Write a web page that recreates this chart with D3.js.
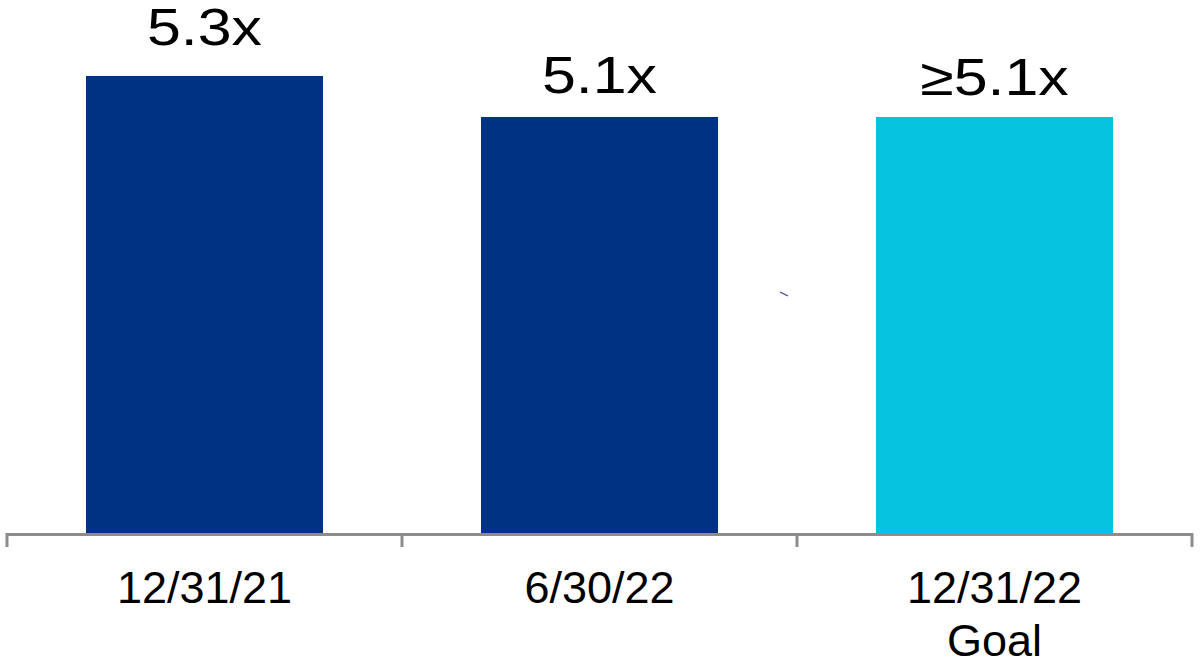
<!DOCTYPE html>
<html>
<head>
<meta charset="utf-8">
<script src="https://cdn.jsdelivr.net/npm/d3@7"></script>
<style>
  html, body { margin: 0; padding: 0; background: #fff; }
  svg { display: block; font-family: "Liberation Sans", Arial, sans-serif; }
</style>
</head>
<body>
<div id="chart"></div>
<script>
// Dati del grafico
const categories = ["12/31/21", "6/30/22", "12/31/22"];
const subLabels = ["", "", "Goal"];
const values = [5.3, 5.1, 5.1];
const valueLabels = ["5.3x", "5.1x", "\u22655.1x"];
const barColors = ["#003283", "#003283", "#05c3de"];
// distanza tra etichetta e cima della barra
const labelGap = [31, 24, 22];

const width = 1200, height = 661;
const baseY = 533;

const svg = d3.select("#chart").append("svg")
    .attr("width", width)
    .attr("height", height);

const x = d3.scaleBand()
    .domain(categories)
    .range([7, 1192])
    .paddingInner(0.4)
    .paddingOuter(0.2);

// l'asse non parte da zero
const y = d3.scaleLinear()
    .domain([3.07, 5.3])
    .range([baseY, 76]);

// barre
svg.selectAll(".bar")
    .data(categories)
    .enter().append("rect")
    .attr("class", "bar")
    .attr("x", d => x(d))
    .attr("y", (d, i) => y(values[i]))
    .attr("width", x.bandwidth())
    .attr("height", (d, i) => baseY - y(values[i]))
    .attr("fill", (d, i) => barColors[i]);

// etichette dei valori (testo un po' allargato come nell'originale)
svg.selectAll(".val")
    .data(categories)
    .enter().append("text")
    .attr("class", "val")
    .attr("transform", (d, i) =>
        `translate(${x(d) + x.bandwidth() / 2},${y(values[i]) - labelGap[i]}) scale(1.17,1)`)
    .attr("text-anchor", "middle")
    .attr("font-size", 52)
    .attr("fill", "#000")
    .text((d, i) => valueLabels[i]);

// asse x con tacche ai confini delle categorie
const step = x.step();
const start = x.range()[0];
const bounds = d3.range(categories.length + 1).map(i => start + i * step);

svg.append("line")
    .attr("x1", start).attr("x2", x.range()[1])
    .attr("y1", baseY + 1.5).attr("y2", baseY + 1.5)
    .attr("stroke", "#8c8c8c")
    .attr("stroke-width", 3);

svg.selectAll(".tick")
    .data(bounds)
    .enter().append("line")
    .attr("class", "tick")
    .attr("x1", d => d).attr("x2", d => d)
    .attr("y1", baseY).attr("y2", baseY + 14)
    .attr("stroke", "#8c8c8c")
    .attr("stroke-width", 3);

// etichette delle categorie
const lab = svg.selectAll(".cat")
    .data(categories)
    .enter().append("text")
    .attr("class", "cat")
    .attr("x", d => x(d) + x.bandwidth() / 2)
    .attr("y", 603)
    .attr("text-anchor", "middle")
    .attr("font-size", 45)
    .attr("fill", "#000");

lab.append("tspan").text(d => d);
lab.filter((d, i) => subLabels[i])
    .append("tspan")
    .attr("x", d => x(d) + x.bandwidth() / 2)
    .attr("dy", 53)
    .text(d => subLabels[categories.indexOf(d)]);

// piccolo segno blu presente nell'originale
svg.append("path")
    .attr("d", "M780,292 L788,296")
    .attr("stroke", "#3a3aa0")
    .attr("stroke-width", 1.2)
    .attr("fill", "none");
</script>
</body>
</html>
